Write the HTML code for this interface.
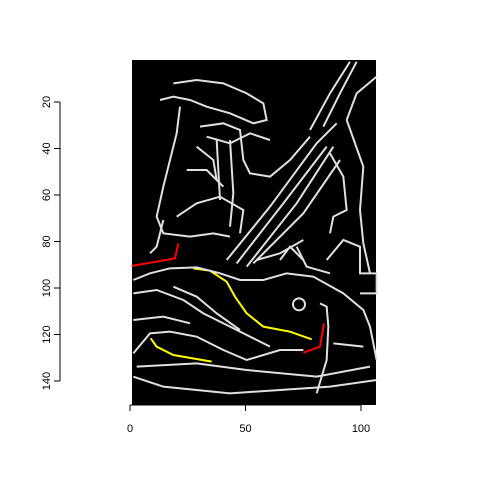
<!DOCTYPE html>
<html><head><meta charset="utf-8"><style>
body{margin:0;background:#fff;}
svg{display:block;font-family:"Liberation Sans",sans-serif;}
</style></head><body>
<svg id="c" width="480" height="480">
<rect x="0" y="0" width="480" height="480" fill="#fff"/>
<rect x="132" y="60" width="244" height="345" fill="#000"/>
<g id="edges"></g>
<g id="axes"></g>
</svg>
<script>
const xTicks=[0,50,100];
const yTicks=[20,40,60,80,100,120,140];
// edge polylines in source image units (box-relative coords, 3x), with colour
const edgeColors=["red","yellow","yellow","red","w","w","w","w","w","w","w","w","w","w","w","w","w","w","w","w","w","w","w","w","w","w","w","w","w","w","w","w","w","w","w","w"];
const edgePaths=[
[[5,618],[135,595],[145,550]],
[[190,625],[240,632],[290,665],[315,710],[350,760],[400,800],[480,815],[545,838]],
[[62,835],[80,860],[130,885],[245,905]],
[[520,878],[570,860],[582,790]],
[[10,660],[60,640],[120,625],[200,622],[270,640],[330,660],[400,660],[470,640],[550,650],[640,700],[700,750],[720,800],[740,900]],
[[10,880],[60,820],[120,815],[200,830],[280,870],[350,900],[450,870],[520,870]],
[[10,700],[80,690],[160,720],[220,760],[300,800],[420,860]],
[[10,780],[100,770],[180,790]],
[[10,950],[100,980],[300,1000],[450,990],[600,980],[740,960]],
[[20,920],[200,910],[350,930],[560,950],[720,920]],
[[290,600],[420,440],[560,250],[620,190]],
[[320,610],[460,430],[590,260]],
[[350,620],[500,430],[610,260]],
[[370,610],[520,460],[630,300]],
[[540,210],[600,100],[660,5]],
[[580,200],[630,100],[680,5]],
[[650,180],[700,320],[690,450],[700,550],[720,640]],
[[740,50],[680,100],[650,180]],
[[130,70],[200,60],[280,70],[350,100],[400,130],[410,180],[370,190],[300,160],[230,140],[180,120],[130,110],[90,120]],
[[150,140],[140,220],[120,300],[100,380],[80,470],[100,520],[180,530],[250,520],[300,530]],
[[210,200],[280,190],[330,210],[340,300],[360,340],[420,350],[480,300],[540,230]],
[[300,240],[310,400],[300,500]],
[[260,240],[270,420]],
[[200,260],[250,300],[260,360]],
[[170,330],[230,330],[280,380]],
[[380,600],[450,580],[520,540]],
[[570,730],[590,740],[595,800],[590,900],[560,1000]],
[[610,850],[700,860]],
[[590,600],[640,540],[690,560],[690,640],[740,640],[740,700],[690,700]],
[[140,470],[200,430],[270,410],[340,450],[330,520]],
[[230,230],[300,250],[360,220],[420,240]],
[[600,280],[640,350],[650,450],[610,470],[600,520]],
[[100,480],[80,560],[60,580]],
[[130,680],[200,710],[260,760],[330,810]],
[[500,560],[530,620],[600,640]],
[[450,600],[480,560],[520,600]]
];
const NS="http://www.w3.org/2000/svg";
const sx=v=>130+v*2.31, sy=v=>102+(v-20)*2.325;
const ex=v=>130+v/3, ey=v=>60+v/3;
const eg=document.getElementById('edges'), ag=document.getElementById('axes');
edgePaths.forEach((p,i)=>{
 const pl=document.createElementNS(NS,'polyline');
 
 
 pl.setAttribute('points',p.map(q=>ex(q[0])+','+ey(q[1])).join(' '));
 const c=edgeColors[i];
 pl.setAttribute('stroke',c==='w'?'#e0e0e0':(c==='red'?'#ff0000':'#ffff00'));
 pl.setAttribute('stroke-width','2');pl.setAttribute('fill','none');
 eg.appendChild(pl);
});
const ci=document.createElementNS(NS,'circle');


ci.setAttribute('cx',ex(507));ci.setAttribute('cy',ey(733));ci.setAttribute('r',6);
ci.setAttribute('stroke','#e0e0e0');ci.setAttribute('stroke-width','2');ci.setAttribute('fill','none');
eg.appendChild(ci);
function ln(x1,y1,x2,y2,n){const l=document.createElementNS(NS,'line');
 
 
 l.setAttribute('x1',x1);l.setAttribute('y1',y1);l.setAttribute('x2',x2);l.setAttribute('y2',y2);
 l.setAttribute('stroke','#000');ag.appendChild(l);}
function tx(x,y,s,r,n){const t=document.createElementNS(NS,'text');
 
 
 t.setAttribute('x',x);t.setAttribute('y',y);t.setAttribute('font-size','11');t.setAttribute('text-anchor','middle');
 if(r)t.setAttribute('transform','rotate(-90 '+x+' '+y+')');t.textContent=s;ag.appendChild(t);}
ln(sx(xTicks[0]),405,sx(xTicks[xTicks.length-1]),405,'x-axis-line');
xTicks.forEach(v=>{ln(sx(v),405,sx(v),411,'x-tick');tx(sx(v),432,v,false,'x-tick-label');});
ln(60,sy(yTicks[0]),60,sy(yTicks[yTicks.length-1]),'y-axis-line');
yTicks.forEach(v=>{ln(60,sy(v),54,sy(v),'y-tick');tx(50,sy(v),v,true,'y-tick-label');});
</script>
</body></html>
